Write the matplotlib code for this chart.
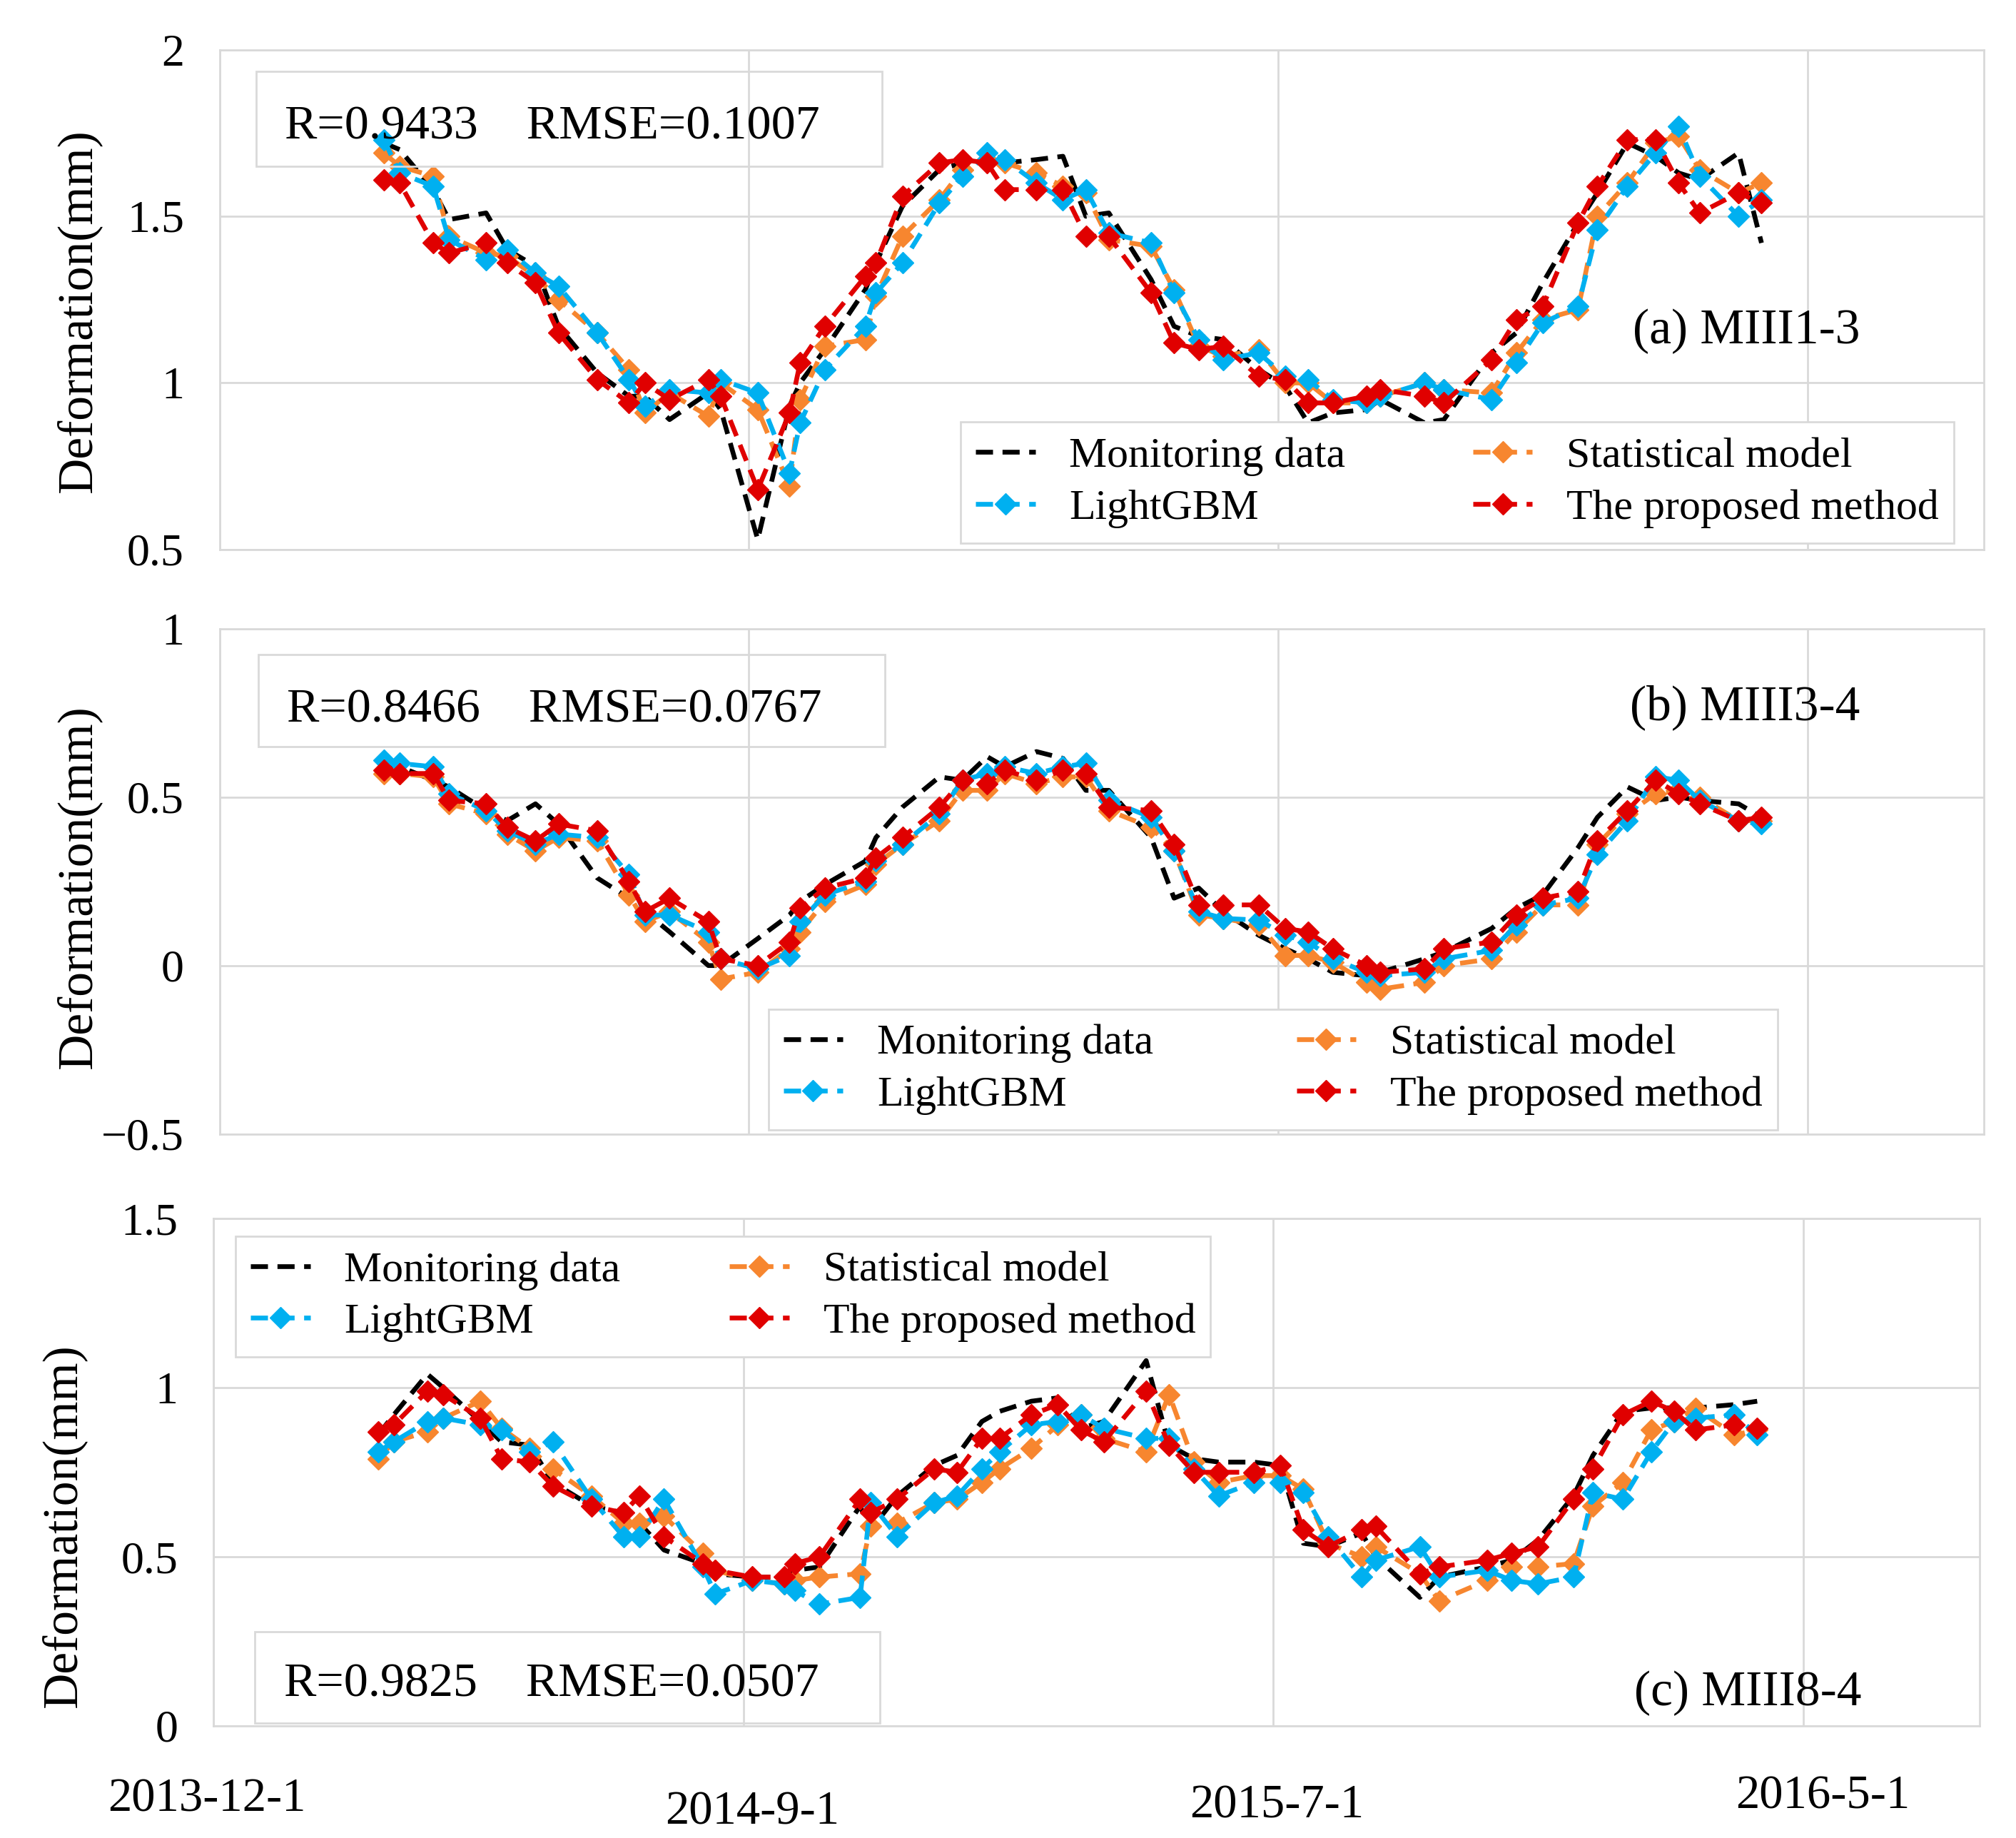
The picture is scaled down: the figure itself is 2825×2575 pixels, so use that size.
"""Deformation of three monitoring points: measured data vs. three prediction models."""

import numpy as np
import matplotlib
matplotlib.use("Agg")
import matplotlib.pyplot as plt
import matplotlib.transforms as mtransforms
from matplotlib.patches import Rectangle
from matplotlib.ticker import FuncFormatter

plt.rcParams["font.family"] = ["Liberation Serif", "DejaVu Serif"]

# observation day, counted from 2013-12-1
obs_day = [93, 102, 121, 130, 151, 163, 179, 192, 214, 232, 241, 255, 277, 284, 305,
           323, 329, 343, 366, 372, 387, 408, 421, 435, 445, 463, 478, 491, 504, 528,
           541, 555, 569, 589, 604, 617, 631, 650, 658, 683, 694, 721, 735, 750, 770,
           781, 798, 814, 827, 839, 861, 874]

tick_days = [0, 300, 600, 900]
tick_labels = ["2013-12-1", "2014-9-1", "2015-7-1", "2016-5-1"]

# (a) MIII1-3
mon_a = [1.72, 1.70, 1.58, 1.49, 1.51, 1.40, 1.35, 1.17, 1.03, 0.96, 0.96, 0.89, 0.97, 0.92, 0.53,
         0.93, 1.00, 1.10, 1.28, 1.36, 1.53, 1.64, 1.66, 1.66, 1.66, 1.67, 1.68, 1.50, 1.51, 1.31,
         1.17, 1.14, 1.13, 1.04, 0.99, 0.88, 0.91, 0.92, 0.95, 0.88, 0.89, 1.09, 1.15, 1.30, 1.48,
         1.57, 1.72, 1.68, 1.63, 1.61, 1.69, 1.42]
stat_a = [1.69, 1.65, 1.62, 1.44, 1.39, 1.38, 1.32, 1.25, 1.15, 1.04, 0.91, 0.97, 0.90, 1.00, 0.92,
          0.69, 0.95, 1.11, 1.13, 1.26, 1.44, 1.55, 1.64, 1.67, 1.66, 1.63, 1.59, 1.57, 1.43, 1.41,
          1.28, 1.11, 1.08, 1.10, 1.00, 1.00, 0.94, 0.94, 0.96, 1.00, 0.98, 0.97, 1.09, 1.19, 1.22,
          1.50, 1.60, 1.72, 1.74, 1.64, 1.57, 1.60]
lgbm_a = [1.73, 1.63, 1.59, 1.43, 1.37, 1.40, 1.33, 1.29, 1.15, 1.01, 0.93, 0.98, 0.97, 1.01, 0.97,
          0.73, 0.88, 1.04, 1.17, 1.27, 1.36, 1.54, 1.62, 1.69, 1.67, 1.60, 1.55, 1.58, 1.45, 1.42,
          1.27, 1.13, 1.07, 1.09, 1.02, 1.01, 0.95, 0.94, 0.96, 1.00, 0.98, 0.95, 1.06, 1.18, 1.23,
          1.46, 1.59, 1.69, 1.77, 1.62, 1.50, 1.55]
prop_a = [1.61, 1.60, 1.42, 1.39, 1.42, 1.36, 1.30, 1.15, 1.01, 0.94, 1.00, 0.95, 1.01, 0.96, 0.68,
          0.91, 1.06, 1.17, 1.32, 1.36, 1.56, 1.66, 1.67, 1.66, 1.58, 1.58, 1.58, 1.44, 1.44, 1.27,
          1.12, 1.10, 1.11, 1.02, 1.01, 0.94, 0.94, 0.96, 0.98, 0.96, 0.94, 1.07, 1.19, 1.23, 1.48,
          1.59, 1.73, 1.73, 1.60, 1.51, 1.57, 1.54]

# (b) MIII3-4
mon_b = [0.60, 0.59, 0.55, 0.53, 0.46, 0.43, 0.48, 0.42, 0.26, 0.20, 0.16, 0.10, 0.00, 0.00, 0.08,
         0.15, 0.19, 0.24, 0.31, 0.38, 0.47, 0.56, 0.55, 0.62, 0.59, 0.635, 0.615, 0.52, 0.52, 0.38,
         0.20, 0.23, 0.16, 0.09, 0.05, 0.02, -0.02, -0.03, -0.02, 0.02, 0.04, 0.11, 0.17, 0.21, 0.35,
         0.44, 0.53, 0.49, 0.50, 0.49, 0.48, 0.44]
stat_b = [0.57, 0.57, 0.56, 0.48, 0.45, 0.39, 0.34, 0.38, 0.37, 0.21, 0.13, 0.16, 0.07, -0.04, -0.02,
          0.05, 0.10, 0.19, 0.24, 0.30, 0.36, 0.43, 0.52, 0.52, 0.57, 0.54, 0.56, 0.56, 0.46, 0.41,
          0.34, 0.15, 0.14, 0.12, 0.03, 0.03, 0.01, -0.05, -0.07, -0.05, 0.00, 0.02, 0.10, 0.18, 0.18,
          0.36, 0.45, 0.51, 0.52, 0.50, 0.43, 0.43]
lgbm_b = [0.61, 0.60, 0.59, 0.51, 0.46, 0.40, 0.36, 0.39, 0.38, 0.27, 0.15, 0.15, 0.10, 0.02, -0.01,
          0.03, 0.13, 0.21, 0.25, 0.31, 0.36, 0.45, 0.55, 0.57, 0.59, 0.57, 0.59, 0.60, 0.49, 0.44,
          0.34, 0.16, 0.14, 0.135, 0.09, 0.07, 0.02, -0.02, -0.03, -0.02, 0.02, 0.045, 0.12, 0.18, 0.20,
          0.33, 0.43, 0.56, 0.55, 0.49, 0.43, 0.42]
prop_b = [0.58, 0.57, 0.57, 0.49, 0.48, 0.41, 0.37, 0.42, 0.40, 0.25, 0.16, 0.20, 0.13, 0.02, 0.00,
          0.07, 0.17, 0.23, 0.26, 0.32, 0.38, 0.47, 0.55, 0.54, 0.58, 0.55, 0.58, 0.57, 0.47, 0.46,
          0.36, 0.18, 0.18, 0.18, 0.11, 0.10, 0.05, 0.00, -0.02, -0.01, 0.05, 0.07, 0.15, 0.20, 0.22,
          0.37, 0.46, 0.55, 0.51, 0.48, 0.43, 0.44]

# (c) MIII8-4
mon_c = [0.86, 0.92, 1.04, 1.00, 0.90, 0.84, 0.83, 0.72, 0.65, 0.63, 0.60, 0.52, 0.48, 0.45, 0.44,
         0.44, 0.46, 0.47, 0.65, 0.58, 0.68, 0.77, 0.80, 0.90, 0.93, 0.96, 0.97, 0.88, 0.90, 1.08,
         0.83, 0.79, 0.78, 0.78, 0.77, 0.54, 0.53, 0.57, 0.50, 0.38, 0.44, 0.47, 0.49, 0.55, 0.68,
         0.80, 0.93, 0.94, 0.94, 0.94, 0.95, 0.96]
stat_c = [0.79, 0.84, 0.87, 0.91, 0.96, 0.88, 0.82, 0.76, 0.68, 0.60, 0.60, 0.62, 0.51, 0.46, 0.43,
          0.42, 0.43, 0.44, 0.45, 0.59, 0.60, 0.66, 0.67, 0.72, 0.76, 0.82, 0.89, 0.92, 0.85, 0.81,
          0.98, 0.78, 0.72, 0.74, 0.74, 0.70, 0.54, 0.50, 0.53, 0.45, 0.37, 0.43, 0.47, 0.47, 0.48,
          0.65, 0.72, 0.875, 0.90, 0.94, 0.86, 0.875]
lgbm_c = [0.81, 0.84, 0.90, 0.91, 0.89, 0.875, 0.81, 0.84, 0.67, 0.56, 0.56, 0.67, 0.47, 0.39, 0.43,
          0.42, 0.40, 0.36, 0.38, 0.66, 0.56, 0.66, 0.68, 0.76, 0.81, 0.89, 0.90, 0.92, 0.88, 0.85,
          0.85, 0.76, 0.68, 0.72, 0.72, 0.69, 0.56, 0.44, 0.49, 0.53, 0.44, 0.46, 0.43, 0.42, 0.44,
          0.69, 0.67, 0.81, 0.90, 0.91, 0.92, 0.86]
prop_c = [0.87, 0.89, 0.99, 0.98, 0.91, 0.79, 0.78, 0.71, 0.65, 0.63, 0.68, 0.56, 0.48, 0.46, 0.44,
          0.44, 0.48, 0.50, 0.67, 0.63, 0.67, 0.76, 0.75, 0.85, 0.85, 0.92, 0.95, 0.875, 0.84, 0.99,
          0.83, 0.75, 0.75, 0.75, 0.77, 0.58, 0.53, 0.58, 0.59, 0.45, 0.47, 0.49, 0.51, 0.53, 0.67,
          0.76, 0.92, 0.96, 0.93, 0.875, 0.89, 0.88]

names = ["(a) MIII1-3", "(b) MIII3-4", "(c) MIII8-4"]
scores = ["R=0.9433    RMSE=0.1007", "R=0.8466    RMSE=0.0767", "R=0.9825    RMSE=0.0507"]
ylims = [(0.5, 2.0), (-0.5, 1.0), (0.0, 1.5)]

GRID = "#D9D9D9"
ORANGE = "#F7862F"
CYAN = "#00B0F0"
RED = "#E00000"

# layout (figure fractions / axes fractions)
axes_rects = [[0.109, 0.701, 0.875, 0.272],
              [0.109, 0.383, 0.875, 0.275],
              [0.106, 0.061, 0.876, 0.276]]
score_boxes = [(0.0205, 0.767, 0.355, 0.189), (0.022, 0.767, 0.355, 0.182), (0.0234, 0.005, 0.354, 0.181)]
score_text_xy = [(0.037, 0.845), (0.038, 0.839), (0.040, 0.082)]
name_xy = [(0.930, 0.437), (0.930, 0.844), (0.933, 0.064)]
legend_boxes = [(0.420, 0.013, 0.563, 0.25), (0.311, 0.008, 0.572, 0.222), (0.0124, 0.727, 0.552, 0.247)]
ylabel_xy = [(-0.067, 0.478), (-0.067, 0.490), (-0.072, 0.395)]
xlabel_offsets = [(-4, -0.145), (5, -0.171), (2, -0.158), (11, -0.140)]


def minus_fmt(v, _):
    return f"{v:g}".replace("-", "\u2212")


fig = plt.figure(figsize=(28.25, 25.75), dpi=100)

series = [(mon_a, stat_a, lgbm_a, prop_a),
          (mon_b, stat_b, lgbm_b, prop_b),
          (mon_c, stat_c, lgbm_c, prop_c)]

line_kw = dict(lw=4.8, dashes=(3.6, 2.0))
mark_kw = dict(marker="D", ms=15)

for i, (mon, stat, lgbm, prop) in enumerate(series):
    ax = fig.add_axes(axes_rects[i])
    lo, hi = ylims[i]
    ax.set_xlim(0, 1000)
    ax.set_ylim(lo, hi)
    ax.set_yticks(np.arange(lo, hi + 0.01, 0.5))
    ax.set_xticks(tick_days)
    ax.yaxis.set_major_formatter(FuncFormatter(minus_fmt))
    ax.grid(True, color=GRID, lw=2)
    ax.set_axisbelow(True)
    for sp in ax.spines.values():
        sp.set_color(GRID)
        sp.set_linewidth(2)
    ax.tick_params(length=0, labelsize=46, pad=36)
    ax.set_xticklabels([])

    h_mon, = ax.plot(obs_day, mon, color="black", label="Monitoring data", zorder=3, **line_kw)
    h_stat, = ax.plot(obs_day, stat, color=ORANGE, mec=ORANGE, mfc=ORANGE,
                      label="Statistical model", zorder=4, **line_kw, **mark_kw)
    h_lgbm, = ax.plot(obs_day, lgbm, color=CYAN, mec=CYAN, mfc=CYAN,
                      label="LightGBM", zorder=5, **line_kw, **mark_kw)
    h_prop, = ax.plot(obs_day, prop, color=RED, mec=RED, mfc=RED,
                      label="The proposed method", zorder=6, **line_kw, **mark_kw)

    ax.set_ylabel("Deformation(mm)", fontsize=50)
    ax.yaxis.set_label_coords(*ylabel_xy[i])

    bx, by, bw, bh = score_boxes[i]
    ax.add_patch(Rectangle((bx, by), bw, bh, transform=ax.transAxes, facecolor="none",
                           edgecolor=GRID, lw=2, zorder=7))
    ax.text(*score_text_xy[i], scores[i], transform=ax.transAxes, fontsize=49,
            ha="left", va="center", zorder=8)
    ax.text(*name_xy[i], names[i], transform=ax.transAxes, fontsize=50,
            ha="right", va="center", zorder=8)

    leg = ax.legend(handles=[h_mon, h_lgbm, h_stat, h_prop], ncol=2, loc="lower left",
                    bbox_to_anchor=legend_boxes[i], mode="expand", fontsize=43,
                    frameon=True, fancybox=False, framealpha=1, edgecolor=GRID,
                    handlelength=1.4, handletextpad=0.8, labelspacing=0.3,
                    borderpad=0.35, columnspacing=1.0, borderaxespad=0)
    leg.get_frame().set_linewidth(2)
    leg.set_zorder(10)

    if i == 2:
        trans = mtransforms.blended_transform_factory(ax.transData, ax.transAxes)
        for day, lab, (dx, dy) in zip(tick_days, tick_labels, xlabel_offsets):
            ax.text(day + dx, dy, lab, transform=trans, fontsize=48,
                    ha="center", va="center", clip_on=False)

fig.savefig("out.png", dpi=100)
